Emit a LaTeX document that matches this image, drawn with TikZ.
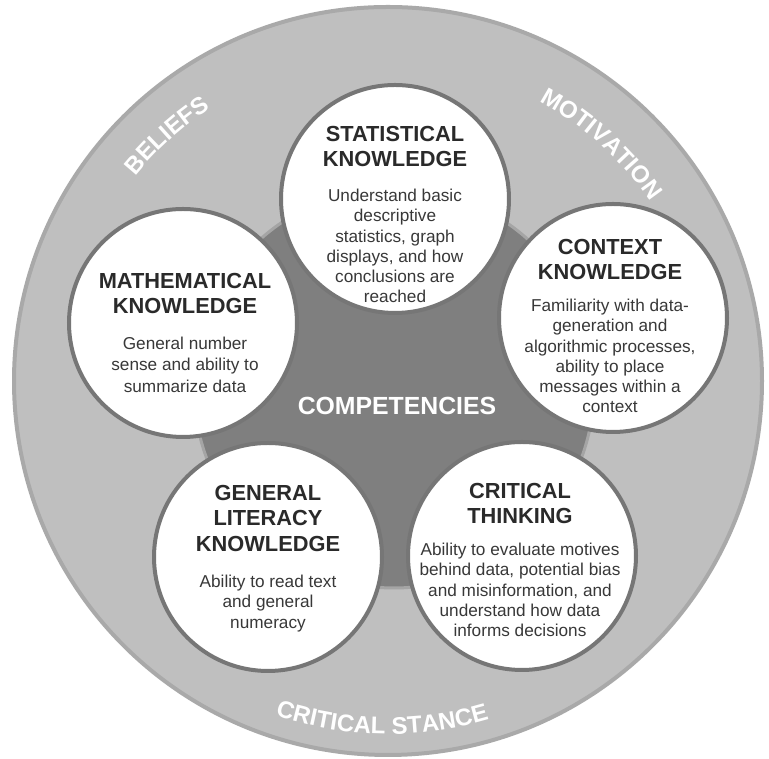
\documentclass[tikz,border=0pt]{standalone}
\usepackage{fontspec}
\setmainfont{Liberation Sans}
\usetikzlibrary{decorations.text}

\definecolor{ringgray}{HTML}{BFBFBF}
\definecolor{ringedge}{HTML}{A9A9A9}
\definecolor{coregray}{HTML}{7F7F7F}
\definecolor{coreedge}{HTML}{A5A5A5}
\definecolor{bubbleedge}{HTML}{767676}
\definecolor{titlegray}{HTML}{2A2A2A}
\definecolor{bodygray}{HTML}{383838}

\newcommand\ringfont{\fontsize{24}{24}\selectfont\bfseries\color{white}}

\tikzset{
  bubble/.style={circle, fill=white, draw=bubbleedge, line width=4pt,
    minimum size=228pt, inner sep=0pt},
  bubbletitle/.style={anchor=north, align=center, inner sep=0pt, text=titlegray,
    font=\fontsize{21.8}{25}\selectfont\bfseries},
  bubblebody/.style={anchor=north, align=center, inner sep=0pt, text=bodygray,
    font=\fontsize{17.2}{20.3}\selectfont},
  ringlabel/.style={decorate, decoration={text along path, text align=center,
    text={|\ringfont|#1}}},
}

\begin{document}
\begin{tikzpicture}[x=1pt, y=1pt]
  \useasboundingbox (0,0) rectangle (769,759);
  \fill[white] (0,0) rectangle (769,759);

  % outer ring and dark core
  \coordinate (O) at (388,378);
  \node[circle, fill=ringgray, draw=ringedge, line width=4pt, minimum size=748pt,
        inner sep=0pt] (ring) at (O) {};
  \node[circle, fill=coregray, draw=coreedge, line width=3pt, minimum size=400pt,
        inner sep=0pt] (core) at (394,371) {};

  % labels around the ring
  \path[ringlabel={BELIEFS}] (O) ++(160:325) arc[start angle=160, end angle=104, radius=325];
  \path[ringlabel={MOTIVATION}] (O) ++(88:318) arc[start angle=88, end angle=8, radius=318];
  \path[ringlabel={CRITICAL STANCE}] (O) ++(229:353) arc[start angle=229, end angle=309, radius=353];

  \node[anchor=base, text=white, font=\fontsize{24.8}{24.8}\selectfont\bfseries]
    (competencies) at (397,344) {COMPETENCIES};

  % the five knowledge bubbles
  \node[bubble] (stat) at (395,560) {};
  \node[bubble] (context) at (613,441) {};
  \node[bubble] (math) at (183,436) {};
  \node[bubble] (literacy) at (268,202) {};
  \node[bubble] (critical) at (522,203) {};

  \node[bubbletitle] (stat-t) at (395,632.5) {STATISTICAL\\KNOWLEDGE};
  \node[bubblebody] (stat-b) at (395,570.2)
    {Understand basic\\descriptive\\statistics, graph\\displays, and how\\conclusions are\\reached};

  \node[bubbletitle] (context-t) at (610,520) {CONTEXT\\KNOWLEDGE};
  \node[bubblebody] (context-b) at (610,460.2)
    {Familiarity with data-\\generation and\\algorithmic processes,\\ability to place\\messages within a\\context};

  \node[bubbletitle] (math-t) at (185,486) {MATHEMATICAL\\KNOWLEDGE};
  \node[bubblebody, font=\fontsize{17.2}{21.5}\selectfont] (math-b) at (185,422.2)
    {General number\\sense and ability to\\summarize data};

  \node[bubbletitle, font=\fontsize{21.8}{25.5}\selectfont\bfseries] (literacy-t) at (268,274)
    {GENERAL\\LITERACY\\KNOWLEDGE};
  \node[bubblebody] (literacy-b) at (268,184.2)
    {Ability to read text\\and general\\numeracy};

  \node[bubbletitle] (critical-t) at (520,276) {CRITICAL\\THINKING};
  \node[bubblebody] (critical-b) at (520,216.2)
    {Ability to evaluate motives\\behind data, potential bias\\and misinformation, and\\understand how data\\informs decisions};
\end{tikzpicture}
\end{document}
